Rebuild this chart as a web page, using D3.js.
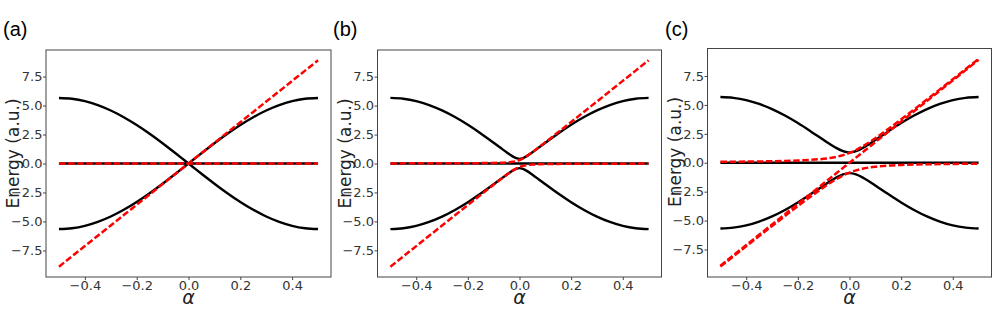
<!DOCTYPE html>
<html>
<head>
<meta charset="utf-8">
<script src="https://cdn.jsdelivr.net/npm/d3@7"></script>
<style>
  html, body { margin: 0; padding: 0; background: #fff; }
  svg { display: block; }
</style>
</head>
<body>
<div id="chart"></div>
<script>
const width = 996;
const height = 325;

// coupling parameter alpha (shared x grid, denser near the crossing)
const alpha = [-0.5, -0.45, -0.4, -0.35, -0.3, -0.25, -0.2, -0.15, -0.1, -0.075, -0.05, -0.025, -0.01, 0,
  0.01, 0.025, 0.05, 0.075, 0.1, 0.15, 0.2, 0.25, 0.3, 0.35, 0.4, 0.45, 0.5];

const xTicks = [-0.4, -0.2, 0, 0.2, 0.4];
const yTicks = [-7.5, -5, -2.5, 0, 2.5, 5, 7.5];
const panelLabels = ['(a)', '(b)', '(c)'];

const zeros = [0, 0, 0, 0, 0, 0, 0, 0, 0, 0, 0, 0, 0, 0, 0, 0, 0, 0, 0, 0, 0, 0, 0, 0, 0, 0, 0];
const diagonal = [-8.9, -8.01, -7.12, -6.23, -5.34, -4.45, -3.56, -2.67, -1.78, -1.335, -0.89, -0.445, -0.178, 0,
  0.178, 0.445, 0.89, 1.335, 1.78, 2.67, 3.56, 4.45, 5.34, 6.23, 7.12, 8.01, 8.9];

// panel (a)
const aBlackUp = [-5.65, -5.58, -5.374, -5.034, -4.571, -3.995, -3.321, -2.565, -1.746, -1.319, -0.884, -0.443, -0.177, 0,
  0.177, 0.443, 0.884, 1.319, 1.746, 2.565, 3.321, 3.995, 4.571, 5.034, 5.374, 5.58, 5.65];
const aBlackDown = [5.65, 5.58, 5.374, 5.034, 4.571, 3.995, 3.321, 2.565, 1.746, 1.319, 0.884, 0.443, 0.177, 0,
  -0.177, -0.443, -0.884, -1.319, -1.746, -2.565, -3.321, -3.995, -4.571, -5.034, -5.374, -5.58, -5.65];

// panel (b)
const bBlackUpper = [5.664, 5.594, 5.389, 5.05, 4.588, 4.015, 3.345, 2.596, 1.791, 1.378, 0.97, 0.597, 0.437, 0.4,
  0.437, 0.597, 0.97, 1.378, 1.791, 2.596, 3.345, 4.015, 4.588, 5.05, 5.389, 5.594, 5.664];
const bBlackLower = [-5.664, -5.594, -5.389, -5.05, -4.588, -4.015, -3.345, -2.596, -1.791, -1.378, -0.97, -0.597, -0.437, -0.4,
  -0.437, -0.597, -0.97, -1.378, -1.791, -2.596, -3.345, -4.015, -4.588, -5.05, -5.389, -5.594, -5.664];
const bRedUpper = [0.01, 0.011, 0.013, 0.015, 0.017, 0.02, 0.025, 0.033, 0.049, 0.064, 0.092, 0.151, 0.224, 0.3,
  0.402, 0.596, 0.982, 1.399, 1.829, 2.703, 3.585, 4.47, 5.357, 6.244, 7.133, 8.021, 8.91];
const bRedLower = [-8.91, -8.021, -7.133, -6.244, -5.357, -4.47, -3.585, -2.703, -1.829, -1.399, -0.982, -0.596, -0.402, -0.3,
  -0.224, -0.151, -0.092, -0.064, -0.049, -0.033, -0.025, -0.02, -0.017, -0.015, -0.013, -0.011, -0.01];

// panel (c)
const cBlackUpper = [5.68, 5.61, 5.42, 5.09, 4.64, 4.08, 3.43, 2.712, 1.964, 1.597, 1.261, 1.003, 0.917, 0.9,
  0.917, 1.003, 1.261, 1.597, 1.964, 2.712, 3.43, 4.08, 4.64, 5.09, 5.42, 5.61, 5.68];
const cBlackLower = [-5.68, -5.61, -5.42, -5.09, -4.64, -4.08, -3.43, -2.712, -1.964, -1.597, -1.261, -1.003, -0.917, -0.9,
  -0.917, -1.003, -1.261, -1.597, -1.964, -2.712, -3.43, -4.08, -4.64, -5.09, -5.42, -5.61, -5.68];
const cRedUpper = [0.081, 0.089, 0.1, 0.114, 0.132, 0.157, 0.192, 0.248, 0.341, 0.413, 0.515, 0.656, 0.766, 0.85,
  0.944, 1.101, 1.405, 1.748, 2.121, 2.918, 3.753, 4.607, 5.472, 6.344, 7.22, 8.099, 8.981];
const cRedLower = [-8.981, -8.099, -7.22, -6.344, -5.472, -4.607, -3.753, -2.918, -2.121, -1.748, -1.405, -1.101, -0.944, -0.85,
  -0.766, -0.656, -0.515, -0.413, -0.341, -0.248, -0.192, -0.157, -0.132, -0.114, -0.1, -0.089, -0.081];

const panels = [
  { label: panelLabels[0], box: { left: 46, right: 331, top: 50, bottom: 277 }, labelX: 3,
    black: [aBlackDown, aBlackUp, zeros], red: [diagonal, zeros] },
  { label: panelLabels[1], box: { left: 377.5, right: 661.5, top: 50, bottom: 277 }, labelX: 333,
    black: [bBlackUpper, bBlackLower, zeros], red: [bRedUpper, bRedLower] },
  { label: panelLabels[2], box: { left: 707.5, right: 991.5, top: 48.5, bottom: 277 }, labelX: 665,
    black: [cBlackUpper, cBlackLower, zeros], red: [cRedUpper, cRedLower, diagonal] }
];

const fmt = d => d3.format('.1f')(d).replace('-', '\u2212');

const svg = d3.select('#chart')
  .append('svg')
  .attr('width', width)
  .attr('height', height);

panels.forEach(function(p) {
  const b = p.box;
  // matplotlib-like 5% margins around the data
  const xExt = d3.extent(alpha);
  const xPad = (xExt[1] - xExt[0]) * 0.05;
  const allY = p.black.concat(p.red).flat();
  const yExt = d3.extent(allY);
  const yPad = (yExt[1] - yExt[0]) * 0.05;

  const x = d3.scaleLinear().domain([xExt[0] - xPad, xExt[1] + xPad]).range([b.left, b.right]);
  const y = d3.scaleLinear().domain([yExt[0] - yPad, yExt[1] + yPad]).range([b.bottom, b.top]);

  const g = svg.append('g');

  const line = d3.line()
    .x((d, i) => x(alpha[i]))
    .y(d => y(d))
    .curve(d3.curveMonotoneX);

  g.selectAll('path.black')
    .data(p.black)
    .enter().append('path')
    .attr('class', 'black')
    .attr('d', line)
    .style('fill', 'none')
    .style('stroke', '#000')
    .style('stroke-width', '2.4px');

  g.selectAll('path.red')
    .data(p.red)
    .enter().append('path')
    .attr('class', 'red')
    .attr('d', line)
    .style('fill', 'none')
    .style('stroke', '#ff0000')
    .style('stroke-width', '2.5px')
    .style('stroke-dasharray', '6.5,2.6');

  // frame
  g.append('rect')
    .attr('x', b.left)
    .attr('y', b.top)
    .attr('width', b.right - b.left)
    .attr('height', b.bottom - b.top)
    .style('fill', 'none')
    .style('stroke', '#444')
    .style('stroke-width', '1px');

  const xAxis = d3.axisBottom(x).tickValues(xTicks).tickSize(3).tickPadding(0.5).tickFormat(fmt);
  const yAxis = d3.axisLeft(y).tickValues(yTicks).tickSize(3).tickPadding(0.5).tickFormat(fmt);

  const gx = g.append('g').attr('transform', 'translate(0,' + b.bottom + ')').call(xAxis);
  const gy = g.append('g').attr('transform', 'translate(' + b.left + ',0)').call(yAxis);
  [gx, gy].forEach(function(ax) {
    ax.select('.domain').remove();
    ax.selectAll('line').style('stroke', '#444');
    ax.selectAll('text')
      .style('font-family', 'DejaVu Sans')
      .style('font-size', '13px')
      .style('fill', '#333');
  });

  g.append('text')
    .attr('transform', 'translate(' + (b.left - 27) + ',' + (b.top + 103.5) + ') rotate(-90)')
    .attr('text-anchor', 'middle')
    .style('font-family', 'DejaVu Sans')
    .style('font-size', '17px')
    .style('fill', '#222')
    .text('Energy (a.u.)');

  g.append('text')
    .attr('x', x(0))
    .attr('y', 304)
    .attr('text-anchor', 'middle')
    .style('font-family', 'DejaVu Sans')
    .style('font-style', 'italic')
    .style('font-size', '19px')
    .style('fill', '#222')
    .text('\u03b1');

  g.append('text')
    .attr('x', p.labelX)
    .attr('y', 35.5)
    .style('font-family', 'Liberation Sans')
    .style('font-size', '20px')
    .style('fill', '#000')
    .text(p.label);
});
</script>
</body>
</html>
